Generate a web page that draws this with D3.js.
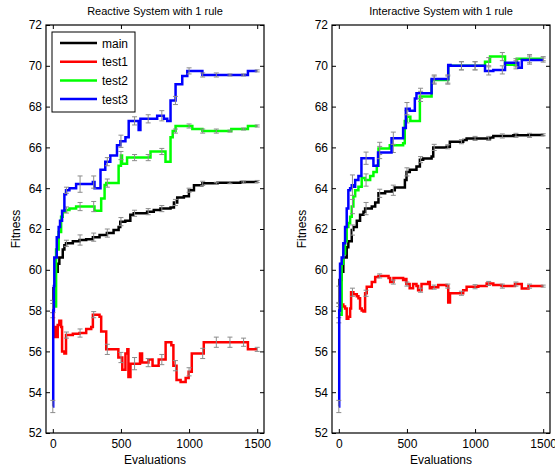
<!DOCTYPE html>
<html>
<head>
<meta charset="utf-8">
<script src="https://cdn.jsdelivr.net/npm/d3@7"></script>
<style>
  body { margin: 0; background: #fff; }
  text { font-family: "Liberation Sans", Arial, sans-serif; fill: #000; }
</style>
</head>
<body>
<div id="myChart"></div>
<script>
// ---- data (evaluation, fitness) ----
let seriesNames = ["main", "test1", "test2", "test3"];
let xTicks = [0, 500, 1000, 1500];
let yTicks = [52, 54, 56, 58, 60, 62, 64, 66, 68, 70, 72];
let errorEvals = [0, 100, 200, 300, 400, 500, 600, 700, 800, 900, 1000, 1100, 1200, 1300, 1400, 1500];

let reactiveMain = [[0,58.0],[5,59.1],[20,59.9],[36,60.3],[48,60.6],[73,61.0],[85,61.2],[97,61.3],[147,61.4],[196,61.46],[245,61.5],[294,61.6],[343,61.7],[397,61.8],[446,61.95],[483,62.1],[495,62.36],[532,62.4],[569,62.7],[594,62.77],[692,62.85],[741,62.93],[790,63.0],[864,63.06],[889,63.3],[913,63.55],[962,63.6],[999,63.9],[1036,64.15],[1098,64.24],[1208,64.27],[1380,64.3],[1500,64.33]];
let reactiveTest1 = [[0,58.2],[4,56.7],[16,57.2],[24,56.7],[36,57.3],[48,57.5],[61,57.2],[68,56.0],[85,55.9],[97,56.8],[147,56.87],[196,56.9],[245,57.1],[282,57.2],[294,57.8],[343,57.7],[355,56.97],[392,56.1],[481,55.7],[510,55.1],[533,55.9],[547,56.1],[555,54.75],[570,55.4],[640,55.9],[655,55.45],[702,55.6],[732,55.3],[777,55.6],[828,56.45],[870,56.3],[885,55.3],[908,54.6],[938,54.5],[975,54.7],[997,55.0],[1020,55.9],[1108,56.45],[1432,56.1],[1500,56.1]];
let reactiveTest2 = [[0,58.2],[24,61.0],[43,61.85],[61,62.6],[73,62.85],[97,62.93],[122,63.0],[171,63.1],[306,62.9],[355,63.5],[380,64.16],[392,64.25],[483,65.1],[500,65.6],[508,65.2],[545,65.5],[717,65.8],[827,65.3],[864,66.5],[880,66.8],[901,67.05],[1024,66.9],[1098,66.8],[1310,66.9],[1432,67.05],[1500,67.05]];
let reactiveTest3 = [[0,53.3],[3,58.0],[8,59.2],[11,60.6],[29,61.6],[43,62.1],[53,62.4],[68,62.9],[85,63.7],[97,63.9],[122,64.0],[171,64.2],[294,64.3],[306,64.0],[350,64.9],[385,65.3],[422,65.6],[471,66.1],[496,66.3],[533,66.5],[557,67.3],[630,66.85],[643,67.4],[766,67.55],[815,67.4],[840,67.3],[864,68.3],[901,69.1],[950,69.5],[987,69.75],[1098,69.55],[1432,69.75],[1500,69.75]];

let interactiveMain = [[0,58.0],[5,59.5],[21,59.9],[33,60.6],[58,61.1],[70,61.4],[95,61.95],[107,62.1],[132,62.4],[156,62.7],[181,62.85],[193,63.0],[242,63.1],[267,63.3],[291,63.75],[340,63.84],[389,63.9],[411,64.04],[485,64.4],[497,64.8],[521,64.9],[570,65.06],[595,65.4],[619,65.46],[681,65.55],[693,66.0],[791,66.03],[815,66.28],[913,66.36],[938,66.44],[1110,66.49],[1134,66.56],[1281,66.59],[1404,66.61],[1500,66.62]];
let interactiveTest1 = [[0,58.8],[16,58.3],[33,58.2],[46,58.1],[58,57.6],[70,57.7],[83,58.1],[90,58.9],[107,58.8],[132,58.7],[144,58.6],[156,58.1],[168,58.0],[181,57.95],[193,58.85],[205,59.17],[242,59.4],[267,59.65],[291,59.7],[365,59.6],[377,59.4],[401,59.6],[472,59.5],[484,59.55],[496,59.3],[520,59.1],[545,59.3],[570,59.2],[582,59.0],[607,59.3],[656,59.4],[668,59.1],[681,59.15],[730,59.25],[791,59.2],[803,58.4],[816,58.85],[913,59.0],[938,59.17],[1024,59.2],[1085,59.33],[1134,59.25],[1195,59.2],[1293,59.3],[1343,59.08],[1392,59.2],[1500,59.2]];
let interactiveTest2 = [[0,57.8],[21,60.3],[33,60.8],[46,61.4],[58,62.1],[70,62.3],[83,62.6],[95,63.1],[107,63.6],[120,63.9],[144,64.07],[168,64.5],[193,64.4],[230,64.6],[254,64.8],[279,65.1],[291,65.95],[374,66.1],[472,66.2],[484,67.3],[500,67.5],[525,67.3],[595,68.5],[681,69.3],[803,70.0],[1073,70.2],[1110,70.45],[1220,70.05],[1306,70.35],[1500,70.35]];
let interactiveTest3 = [[0,53.3],[3,58.0],[9,60.3],[21,60.6],[33,61.3],[46,62.1],[58,63.0],[70,63.9],[83,64.0],[95,64.15],[107,64.07],[120,64.4],[144,64.6],[166,65.47],[254,65.1],[288,65.75],[387,66.45],[472,66.95],[492,67.9],[520,67.8],[558,68.4],[570,68.65],[681,69.35],[803,70.04],[820,70.0],[1073,69.75],[1134,69.8],[1220,70.15],[1318,69.9],[1343,70.28],[1500,70.28]];

// error bar half-lengths at errorEvals
let reactiveMainErr = [0.35,0.15,0.25,0.2,0.2,0.2,0.15,0.15,0.15,0.15,0.1,0.1,0.05,0.05,0.05,0.05];
let reactiveTest1Err = [0.3,0.15,0.2,0.15,0.25,0.25,0.3,0.2,0.25,0.25,0.2,0.25,0.25,0.25,0.2,0.1];
let reactiveTest2Err = [0.3,0.15,0.2,0.25,0.2,0.2,0.15,0.15,0.15,0.1,0.1,0.1,0.1,0.05,0.05,0.05];
let reactiveTest3Err = [0.3,0.15,0.4,0.3,0.2,0.3,0.2,0.2,0.25,0.2,0.15,0.1,0.1,0.05,0.05,0.05];
let interactiveMainErr = [0.35,0.25,0.3,0.2,0.25,0.2,0.15,0.15,0.1,0.1,0.1,0.1,0.1,0.1,0.1,0.05];
let interactiveTest1Err = [0.4,0.2,0.15,0.1,0.1,0.1,0.1,0.1,0.1,0.1,0.1,0.1,0.1,0.1,0.1,0.05];
let interactiveTest2Err = [0.4,0.35,0.3,0.3,0.35,0.3,0.25,0.2,0.2,0.2,0.2,0.2,0.2,0.2,0.2,0.1];
let interactiveTest3Err = [0.3,0.5,0.3,0.3,0.3,0.3,0.25,0.2,0.2,0.2,0.2,0.2,0.2,0.2,0.2,0.1];

let colors = { main: "#000000", test1: "#ff0000", test2: "#00ff00", test3: "#0000ff" };

let panels = [
  {
    title: "Reactive System with 1 rule",
    left: 46, right: 264, legend: true,
    series: [reactiveMain, reactiveTest1, reactiveTest2, reactiveTest3],
    errs: [reactiveMainErr, reactiveTest1Err, reactiveTest2Err, reactiveTest3Err],
  },
  {
    title: "Interactive System with 1 rule",
    left: 332, right: 550, legend: false,
    series: [interactiveMain, interactiveTest1, interactiveTest2, interactiveTest3],
    errs: [interactiveMainErr, interactiveTest1Err, interactiveTest2Err, interactiveTest3Err],
  },
];

let plotTop = 25, plotBottom = 433;

let svg = d3
  .select("#myChart")
  .append("svg")
  .attr("width", 555)
  .attr("height", 469);

let bisect = d3.bisector((d) => d[0]).right;
// value of a step series at evaluation e
let valueAt = (s, e) => s[Math.max(0, bisect(s, e) - 1)][1];

panels.forEach((p) => {
  let x = d3.scaleLinear().domain([-50, 1550]).range([p.left, p.right]);
  let y = d3.scaleLinear().domain([52, 72]).range([plotBottom, plotTop]);
  let g = svg.append("g");

  // lines + error bars, in plotting order
  let line = d3
    .line()
    .x((d) => x(d[0]))
    .y((d) => y(d[1]))
    .curve(d3.curveStepAfter);

  p.series.forEach((s, i) => {
    g.append("path")
      .datum(s)
      .attr("d", line)
      .attr("fill", "none")
      .attr("stroke", colors[seriesNames[i]])
      .attr("stroke-width", 2.5);

    let bars = g
      .selectAll(null)
      .data(errorEvals.map((e, k) => ({ e: e, v: valueAt(s, e), h: p.errs[i][k] })))
      .enter()
      .append("g")
      .attr("stroke", "#8c8c8c")
      .attr("stroke-width", 1);
    bars.append("line")
      .attr("x1", (d) => x(d.e)).attr("x2", (d) => x(d.e))
      .attr("y1", (d) => y(d.v - d.h)).attr("y2", (d) => y(d.v + d.h));
    bars.append("line")
      .attr("x1", (d) => x(d.e) - 2.5).attr("x2", (d) => x(d.e) + 2.5)
      .attr("y1", (d) => y(d.v - d.h)).attr("y2", (d) => y(d.v - d.h));
    bars.append("line")
      .attr("x1", (d) => x(d.e) - 2.5).attr("x2", (d) => x(d.e) + 2.5)
      .attr("y1", (d) => y(d.v + d.h)).attr("y2", (d) => y(d.v + d.h));
  });

  // axes with inward ticks on all four sides
  g.append("g")
    .attr("transform", `translate(${p.left},0)`)
    .call(d3.axisLeft(y).tickValues(yTicks).tickSizeInner(-4).tickSizeOuter(0).tickPadding(4).tickFormat(d3.format("d")));
  g.append("g")
    .attr("transform", `translate(0,${plotBottom})`)
    .call(d3.axisBottom(x).tickValues(xTicks).tickSizeInner(-4).tickSizeOuter(0).tickPadding(6).tickFormat(d3.format("d")));
  g.append("g")
    .attr("transform", `translate(${p.right},0)`)
    .call(d3.axisRight(y).tickValues(yTicks).tickSizeInner(-4).tickSizeOuter(0).tickFormat(""));
  g.append("g")
    .attr("transform", `translate(0,${plotTop})`)
    .call(d3.axisTop(x).tickValues(xTicks).tickSizeInner(-4).tickSizeOuter(0).tickFormat(""));

  g.selectAll(".domain").remove();
  g.selectAll(".tick line").attr("stroke", "#000");
  g.selectAll(".tick text")
    .style("font-size", "12px")
    .style("font-family", '"Liberation Sans", Arial, sans-serif')
    .attr("fill", "#000");

  // axes box
  g.append("rect")
    .attr("x", p.left)
    .attr("y", plotTop)
    .attr("width", p.right - p.left)
    .attr("height", plotBottom - plotTop)
    .attr("fill", "none")
    .attr("stroke", "#000")
    .attr("stroke-width", 1.2);

  // title and labels
  g.append("text")
    .attr("x", (p.left + p.right) / 2)
    .attr("y", 15)
    .attr("text-anchor", "middle")
    .style("font-size", "11px")
    .text(p.title);

  g.append("text")
    .attr("x", (p.left + p.right) / 2)
    .attr("y", 464)
    .attr("text-anchor", "middle")
    .style("font-size", "12px")
    .text("Evaluations");

  g.append("text")
    .attr("transform", `translate(${p.left - 26},${(plotTop + plotBottom) / 2}) rotate(-90)`)
    .attr("text-anchor", "middle")
    .style("font-size", "12px")
    .text("Fitness");

  if (p.legend) {
    let lg = g.append("g").attr("transform", "translate(52,32)");
    lg.append("rect")
      .attr("width", 83)
      .attr("height", 80)
      .attr("fill", "#fff")
      .attr("stroke", "#000")
      .attr("stroke-width", 1);
    let items = lg
      .selectAll(".item")
      .data(seriesNames)
      .enter()
      .append("g")
      .attr("class", "item")
      .attr("transform", (d, i) => `translate(0,${11 + i * 18.7})`);
    items.append("line")
      .attr("x1", 8).attr("x2", 45)
      .attr("stroke", (d) => colors[d])
      .attr("stroke-width", 2.5);
    items.append("text")
      .attr("x", 50)
      .attr("y", 4.5)
      .style("font-size", "12px")
      .text((d) => d);
  }
});
</script>
</body>
</html>
